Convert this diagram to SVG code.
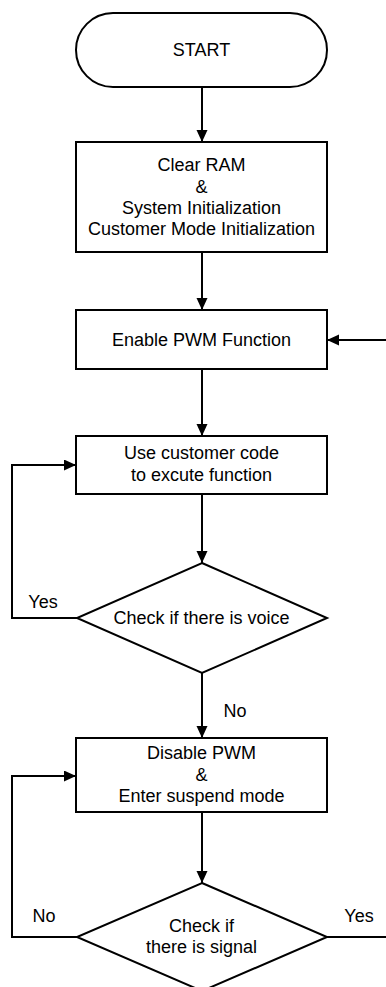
<svg xmlns="http://www.w3.org/2000/svg" width="386" height="987" viewBox="0 0 386 987">
<style>
.shape{fill:#fff;stroke:#000;stroke-width:2}
.line{fill:none;stroke:#000;stroke-width:2}
text{font-family:"Liberation Sans",Arial,sans-serif;font-size:18px;fill:#000;text-anchor:middle}
</style>
<defs>
<marker id="arr" markerUnits="userSpaceOnUse" markerWidth="12" markerHeight="12" refX="12" refY="5.5" orient="auto">
<path d="M0,0 L12,5.5 L0,11 z" fill="#000"/>
</marker>
</defs>
<g id="connectors">
<line class="line" x1="202" y1="87" x2="202" y2="142" marker-end="url(#arr)"/>
<line class="line" x1="202" y1="252" x2="202" y2="310" marker-end="url(#arr)"/>
<line class="line" x1="202" y1="369" x2="202" y2="436" marker-end="url(#arr)"/>
<line class="line" x1="202" y1="494" x2="202" y2="563" marker-end="url(#arr)"/>
<line class="line" x1="202" y1="673" x2="202" y2="738" marker-end="url(#arr)"/>
<line class="line" x1="202" y1="812" x2="202" y2="883" marker-end="url(#arr)"/>
<polyline class="line" points="77,618 12,618 12,465 76,465" marker-end="url(#arr)"/>
<polyline class="line" points="77,937 12,937 12,776 76,776" marker-end="url(#arr)"/>
<line class="line" x1="327" y1="937" x2="386" y2="937"/>
<line class="line" x1="386" y1="340" x2="327" y2="340" marker-end="url(#arr)"/>
<text x="43" y="608">Yes</text>
<text x="235" y="717">No</text>
<text x="44" y="922">No</text>
<text x="359" y="922">Yes</text>
</g>
<g id="start">
<rect class="shape" x="76" y="13" width="251" height="74" rx="37" ry="37"/>
<text x="201.5" y="56">START</text>
</g>
<g id="init">
<rect class="shape" x="76" y="142" width="251" height="110"/>
<text x="201.5" y="171">Clear RAM</text>
<text x="201.5" y="193">&amp;</text>
<text x="201.5" y="214">System Initialization</text>
<text x="201.5" y="235">Customer Mode Initialization</text>
</g>
<g id="enable-pwm">
<rect class="shape" x="76" y="310" width="251" height="59"/>
<text x="201.5" y="346">Enable PWM Function</text>
</g>
<g id="customer-code">
<rect class="shape" x="76" y="436" width="251" height="58"/>
<text x="201.5" y="459">Use customer code</text>
<text x="201.5" y="481">to excute function</text>
</g>
<g id="check-voice">
<polygon class="shape" points="202,563 327,618 202,673 77,618"/>
<text x="201.5" y="624">Check if there is voice</text>
</g>
<g id="disable-pwm">
<rect class="shape" x="76" y="738" width="251" height="74"/>
<text x="201.5" y="759">Disable PWM</text>
<text x="201.5" y="781">&amp;</text>
<text x="201.5" y="802">Enter suspend mode</text>
</g>
<g id="check-signal">
<polygon class="shape" points="202,883 327,937 202,991 77,937"/>
<text x="201.5" y="932">Check if</text>
<text x="201.5" y="953">there is signal</text>
</g>
</svg>
